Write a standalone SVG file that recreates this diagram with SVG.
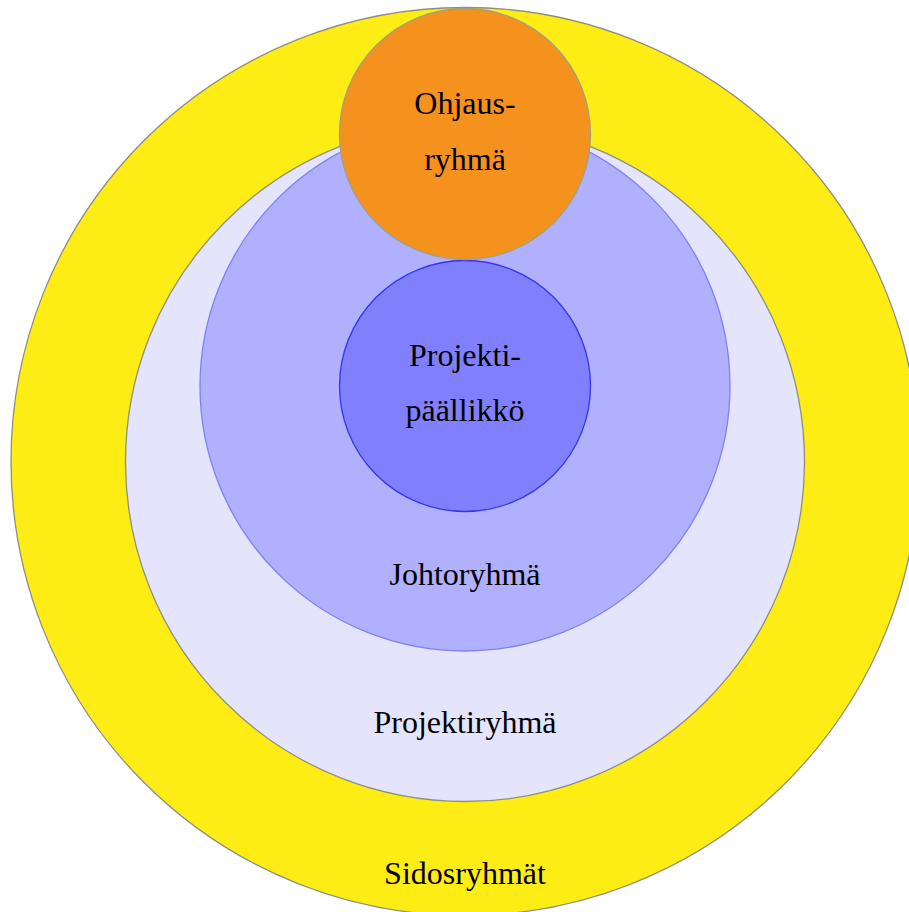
<svg xmlns="http://www.w3.org/2000/svg" width="909" height="912" viewBox="0 0 909 912">
<style>
text{font-family:"Liberation Serif","Times New Roman",serif;font-size:32px;fill:#000;text-anchor:middle}
.gray{stroke:#8f8f80;stroke-width:1.3}
</style>
<rect width="909" height="912" fill="#fff"/>
<g id="sidosryhmat">
<circle cx="465" cy="461.5" r="454" fill="#feed15" class="gray"/>
<text x="465" y="884">Sidosryhmät</text>
</g>
<g id="projektiryhma">
<circle cx="465" cy="462" r="339.5" fill="#e4e4fc" class="gray"/>
<text x="465" y="733">Projektiryhmä</text>
</g>
<g id="johtoryhma">
<circle cx="465" cy="386" r="265" fill="#b0b0fe" stroke="#8080f8" stroke-width="1.3"/>
<text x="465" y="585">Johtoryhmä</text>
</g>
<g id="projektipaallikko">
<circle cx="465" cy="386" r="125.5" fill="#8080ff" stroke="#3535f0" stroke-width="1.3"/>
<text x="465" y="366">Projekti-</text>
<text x="465" y="421">päällikkö</text>
</g>
<g id="ohjausryhma">
<circle cx="465" cy="134" r="125.5" fill="#f5921e" stroke="#a0a080" stroke-width="1.3"/>
<text x="465" y="114">Ohjaus-</text>
<text x="465" y="170">ryhmä</text>
</g>
<g id="connectors"/>
</svg>
